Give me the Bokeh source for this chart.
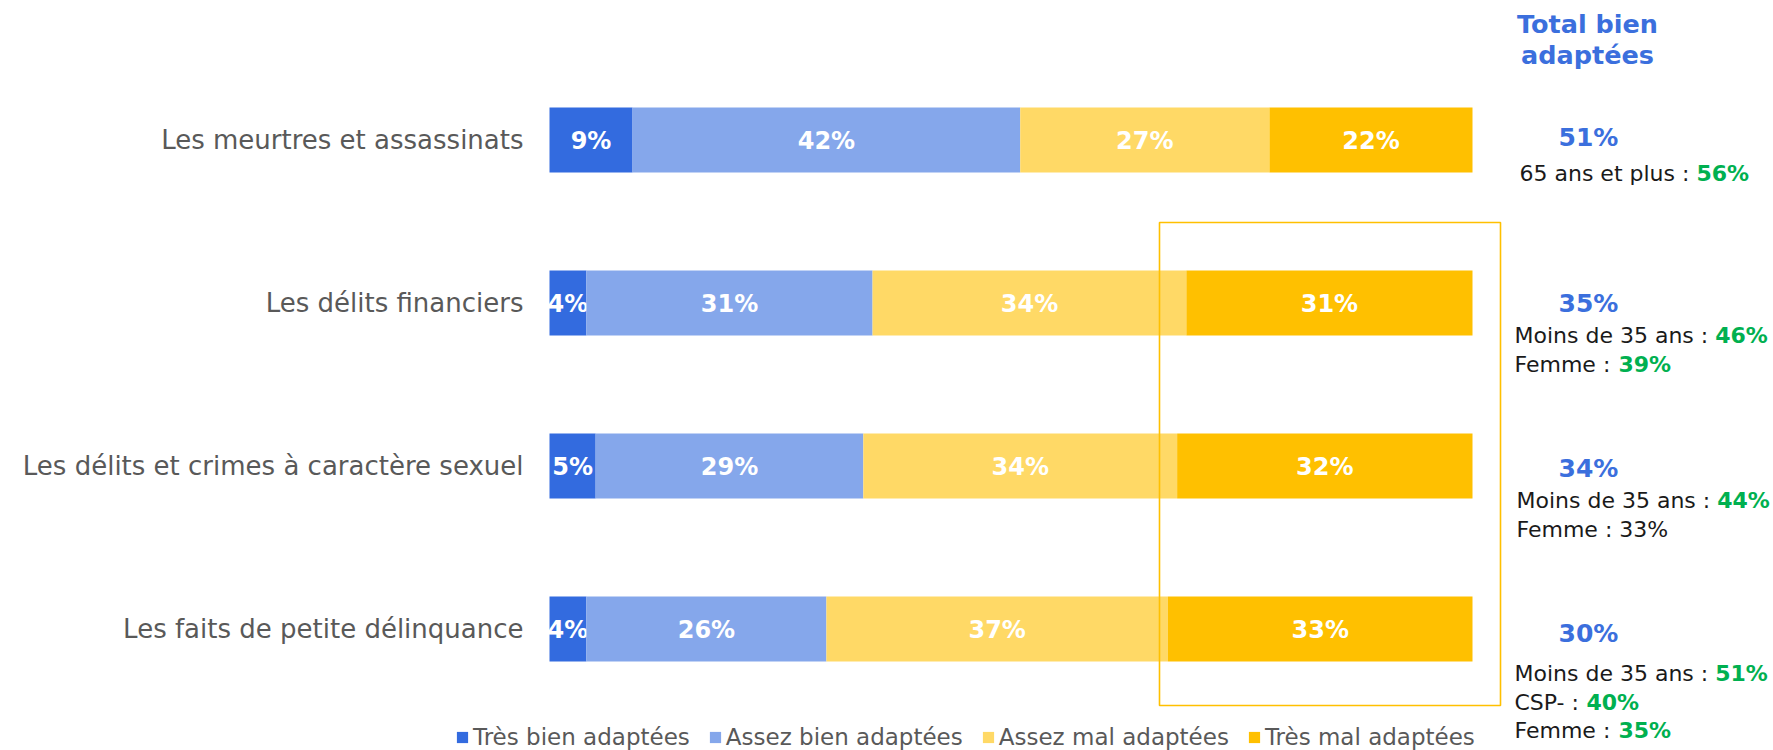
from bokeh.plotting import figure
from bokeh.models import ColumnDataSource, Range1d, Legend, LegendItem
from bokeh.core.properties import value
from bokeh.embed import file_html
from bokeh.resources import INLINE

# ---------------- data ----------------
categories = [
    "Les meurtres et assassinats",
    "Les délits financiers",
    "Les délits et crimes à caractère sexuel",
    "Les faits de petite délinquance",
]
series_names = ["Très bien adaptées", "Assez bien adaptées", "Assez mal adaptées", "Très mal adaptées"]
tres_bien = [9, 4, 5, 4]
assez_bien = [42, 31, 29, 26]
assez_mal = [27, 34, 34, 37]
tres_mal = [22, 31, 32, 33]
total_bien = [51, 35, 34, 30]
total_title = ["Total bien", "adaptées"]
sub_labels = [["65 ans et plus"], ["Moins de 35 ans", "Femme"], ["Moins de 35 ans", "Femme"],
              ["Moins de 35 ans", "CSP-", "Femme"]]
sub_values = [[56], [46, 39], [44, 33], [51, 40, 35]]
sub_highlight = [[True], [True, True], [True, False], [True, True, True]]

# ---------------- style / layout ----------------
W, H = 1773, 750
colors = ["#336BDF", "#85A7EB", "#FFD966", "#FFC000"]
BLUE_T = "#3B6FDD"
GREEN = "#00B050"
GREY = "#595959"
FONT = "DejaVu Sans"

bar_left_px, bar_right_px = 549, 1472
row0_px, row_step_px = 139.5, 163
bar_h_px = 65
k = (bar_right_px - bar_left_px) / 100.0

p = figure(width=W, height=H, output_backend="svg", toolbar_location=None,
           x_axis_location=None, y_axis_location=None, min_border=0,
           x_range=Range1d(-bar_left_px / k, (W - bar_left_px) / k),
           y_range=Range1d((H - row0_px) / row_step_px, -row0_px / row_step_px))
p.extra_x_ranges = {"px": Range1d(0, W)}
p.extra_y_ranges = {"px": Range1d(H, 0)}
p.outline_line_color = None
p.xgrid.visible = False
p.ygrid.visible = False
p.background_fill_color = "white"
p.border_fill_color = "white"

# ---------------- bars ----------------
series = [tres_bien, assez_bien, assez_mal, tres_mal]
idx = list(range(len(categories)))
start = [0] * len(categories)
renderers = []
for s, vals in enumerate(series):
    left = start[:]
    right = [a + b for a, b in zip(left, vals)]
    src = ColumnDataSource(dict(y=idx, left=left, right=right,
                                mid=[(a + b) / 2 for a, b in zip(left, right)],
                                lab=[f"{v}%" for v in vals]))
    r = p.hbar(y="y", left="left", right="right", height=bar_h_px / row_step_px,
               source=src, fill_color=colors[s], line_color=None)
    renderers.append(r)
    p.text(x="mid", y="y", text="lab", source=src, text_align="center",
           text_baseline="middle", text_color="white", text_font=value(FONT),
           text_font_style="bold", text_font_size="24px", y_offset=1)
    start = right

# category labels
p.text(x=[523] * len(categories), y=idx, text=categories, x_range_name="px",
       text_align="right", text_baseline="middle", text_color=GREY,
       text_font=value(FONT), text_font_size="26px")

# highlight box
p.quad(left=[1159], right=[1500], top=[222], bottom=[705], x_range_name="px", y_range_name="px",
       fill_alpha=0, line_color="#FFC000", line_width=1.6)

# ---------------- right column ----------------
p.text(x=[1587, 1587], y=[23, 54], text=total_title, x_range_name="px", y_range_name="px",
       text_align="center", text_baseline="middle", text_color=BLUE_T,
       text_font=value(FONT), text_font_style="bold", text_font_size="25.5px")

big_y = [137, 303, 468, 633]
sub_y0 = [173, 335, 500, 673]
sub_x = [1519, 1514, 1516, 1514]
sub_dy = [29, 29, 28.5, 28.5]
p.text(x=[1588] * 4, y=big_y, text=[f"{v}%" for v in total_bien], x_range_name="px",
       y_range_name="px", text_align="center", text_baseline="middle", text_color=BLUE_T,
       text_font=value(FONT), text_font_style="bold", text_font_size="25px")

# DejaVu Sans advance widths (em/1000) for measuring the black part of each line
ADV = {" ": 318, "-": 361, ":": 337, "%": 950, "C": 698, "F": 575, "M": 863, "P": 603, "S": 635,
       "a": 613, "d": 635, "e": 615, "i": 278, "l": 278, "m": 974, "n": 634, "o": 612, "p": 635,
       "s": 521, "t": 392, "u": 634}
for c in "0123456789":
    ADV[c] = 636


def text_w(t, size):
    return sum(ADV.get(c, 600) for c in t) * size / 1000.0


SUB_SIZE = 22
bx, by, bt, gx, gy, gt = [], [], [], [], [], []
for i in range(len(categories)):
    for j, (lab, v, hl) in enumerate(zip(sub_labels[i], sub_values[i], sub_highlight[i])):
        y = sub_y0[i] + j * sub_dy[i]
        prefix = f"{lab} : "
        if hl:
            bx.append(sub_x[i]); by.append(y); bt.append(prefix)
            gx.append(sub_x[i] + text_w(prefix, SUB_SIZE)); gy.append(y); gt.append(f"{v}%")
        else:
            bx.append(sub_x[i]); by.append(y); bt.append(f"{prefix}{v}%")

p.text(x=bx, y=by, text=bt, x_range_name="px", y_range_name="px", text_align="left",
       text_baseline="middle", text_color="#1A1A1A", text_font=value(FONT),
       text_font_size=f"{SUB_SIZE}px")
p.text(x=gx, y=gy, text=gt, x_range_name="px", y_range_name="px", text_align="left",
       text_baseline="middle", text_color=GREEN, text_font=value(FONT),
       text_font_style="bold", text_font_size=f"{SUB_SIZE}px")

# ---------------- legend ----------------
legend = Legend(items=[LegendItem(label=n, renderers=[r]) for n, r in zip(series_names, renderers)],
                orientation="horizontal", location=(455, 0), glyph_width=14, glyph_height=14,
                label_standoff=4, spacing=18, padding=0, margin=0,
                label_text_font=FONT, label_text_font_size="23px", label_text_color=GREY,
                border_line_alpha=0, background_fill_alpha=0)
p.add_layout(legend)

open("out.html", "w").write(file_html(p, INLINE))
